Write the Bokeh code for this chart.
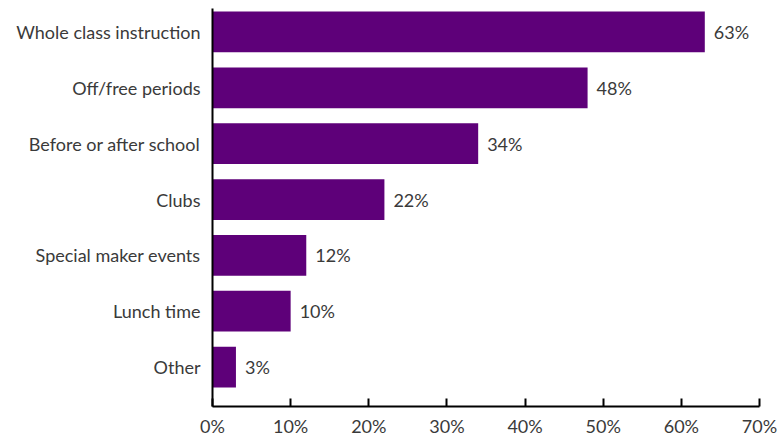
from bokeh.plotting import figure
from bokeh.models import ColumnDataSource, FixedTicker, Range1d, LabelSet
from bokeh.core.properties import value
from bokeh.embed import file_html
from bokeh.resources import INLINE

categories = ["Whole class instruction", "Off/free periods", "Before or after school",
              "Clubs", "Special maker events", "Lunch time", "Other"]
values = [63, 48, 34, 22, 12, 10, 3]
x_ticks = [0, 10, 20, 30, 40, 50, 60, 70]

n = len(categories)
ypos = [n - 1 - i for i in range(n)]
src = ColumnDataSource(dict(y=ypos, v=values, lab=[f"{v}%" for v in values]))

FONT = "Lato"
TXT = "#3a3a3a"
BAR = "#5E0079"
FS = "18px"

p = figure(frame_width=547, frame_height=398, output_backend="svg", toolbar_location=None,
           x_range=Range1d(0, 70), y_range=Range1d(-0.706, 6.42),
           min_border_left=212, min_border_right=22, min_border_top=8, min_border_bottom=0)
p.outline_line_color = None
p.xgrid.visible = False
p.ygrid.visible = False

p.hbar(y="y", right="v", left=0, height=0.73, source=src, color=BAR, line_color=None)

labels = LabelSet(x="v", y="y", text="lab", source=src, x_offset=9, y_offset=0,
                  text_baseline="middle", text_align="left", text_font=value(FONT),
                  text_font_size=value(FS), text_color=value(TXT))
p.add_layout(labels)

p.xaxis.ticker = FixedTicker(ticks=x_ticks)
p.xaxis.major_label_overrides = {t: f"{t}%" for t in x_ticks}
p.xaxis.axis_line_width = 2
p.xaxis.axis_line_color = "black"
p.xaxis.major_tick_in = 8
p.xaxis.major_tick_out = 0
p.xaxis.major_tick_line_width = 2
p.xaxis.major_tick_line_color = "black"
p.xaxis.minor_tick_line_color = None
p.xaxis.major_label_text_font = FONT
p.xaxis.major_label_text_font_size = FS
p.xaxis.major_label_text_color = TXT
p.xaxis.major_label_standoff = 8

p.yaxis.ticker = FixedTicker(ticks=ypos)
p.yaxis.major_label_overrides = {y: c for y, c in zip(ypos, categories)}
p.yaxis.axis_line_width = 2
p.yaxis.axis_line_color = "black"
p.yaxis.major_tick_line_color = None
p.yaxis.minor_tick_line_color = None
p.yaxis.major_tick_in = 0
p.yaxis.major_tick_out = 0
p.yaxis.major_label_text_font = FONT
p.yaxis.major_label_text_font_size = FS
p.yaxis.major_label_text_color = TXT
p.yaxis.major_label_standoff = 12

open("out.html", "w").write(file_html(p, INLINE))
